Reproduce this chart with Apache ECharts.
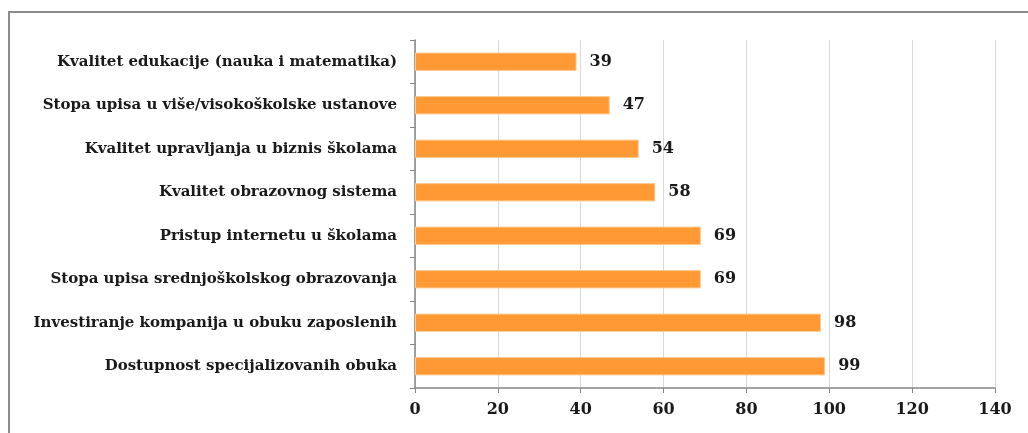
<!DOCTYPE html>
<html>
<head>
<meta charset="utf-8">
<script src="https://cdn.jsdelivr.net/npm/echarts@6/dist/echarts.min.js"></script>
<style>
  html, body { margin: 0; padding: 0; background: #fff; }
  #wrap { position: relative; width: 1028px; height: 433px; overflow: hidden; }
  #frame { position: absolute; left: 8px; top: 11px; width: 1100px; height: 500px; border: 2px solid #8c8c8c; box-sizing: border-box; }
  #chart { position: absolute; left: 0; top: 0; width: 1028px; height: 433px; }
</style>
</head>
<body>
<div id="wrap">
  <div id="frame"></div>
  <div id="chart"></div>
</div>
<script>
// kategorije odozgo nadole
const categories = [
  'Kvalitet edukacije (nauka i matematika)',
  'Stopa upisa u više/visokoškolske ustanove',
  'Kvalitet upravljanja u biznis školama',
  'Kvalitet obrazovnog sistema',
  'Pristup internetu u školama',
  'Stopa upisa srednjoškolskog obrazovanja',
  'Investiranje kompanija u obuku zaposlenih',
  'Dostupnost specijalizovanih obuka'
]
const values = [39, 47, 54, 58, 69, 69, 98, 99]
const axisMin = 0
const axisMax = 140
const axisStep = 20

const font = 'DejaVu Serif'

const chart = echarts.init(document.getElementById('chart'))
chart.setOption({
  animation: false,
  grid: { left: 415, right: 33, top: 40, bottom: 45, containLabel: false },
  xAxis: {
    type: 'value',
    min: axisMin,
    max: axisMax,
    interval: axisStep,
    axisLine: { show: true, lineStyle: { color: '#868686', width: 1.5 } },
    axisTick: { show: true, length: 5, lineStyle: { color: '#868686' } },
    axisLabel: { color: '#1a1a1a', fontFamily: font, fontWeight: 'bold', fontSize: 16, margin: 14 },
    splitLine: { show: true, lineStyle: { color: '#d9d9d9', width: 1 } }
  },
  yAxis: {
    type: 'category',
    data: categories,
    inverse: true,
    axisLine: { show: true, lineStyle: { color: '#868686', width: 1.5 } },
    axisTick: { show: true, length: 5, lineStyle: { color: '#868686' } },
    axisLabel: { color: '#1a1a1a', fontFamily: font, fontWeight: 'bold', fontSize: 15, margin: 18 }
  },
  series: [{
    type: 'bar',
    data: values,
    barCategoryGap: '58%',
    itemStyle: { color: '#ff9933', borderColor: '#ffc890', borderWidth: 1 },
    label: {
      show: true,
      position: 'right',
      distance: 13,
      color: '#1a1a1a',
      fontFamily: font,
      fontWeight: 'bold',
      fontSize: 16
    }
  }]
})
</script>
</body>
</html>
